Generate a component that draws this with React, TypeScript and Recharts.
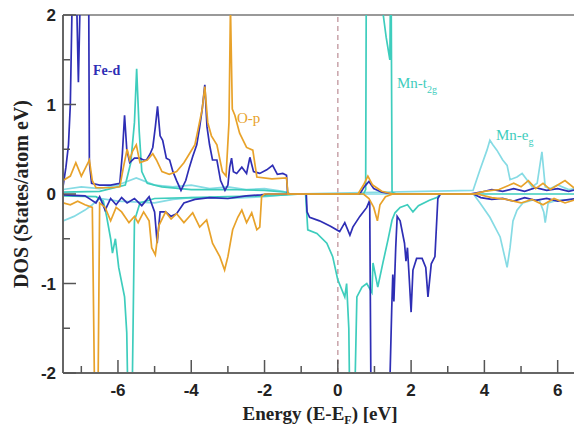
import React from "react"
import { LineChart, Line, XAxis, YAxis, ReferenceLine } from "recharts"

type P = [number, number]

// [energy (eV), DOS] pairs; spin up > 0, spin down < 0
const feUp: P[] = [
  [-7.5, 0.08], [-7.42, 0.3], [-7.35, 0.55], [-7.3, 1.0], [-7.24, 2.4], [-7.14, 2.4], [-7.08, 1.25],
  [-7.02, 2.4], [-6.8, 2.4], [-6.78, 0.35], [-6.72, 0.12], [-6.5, 0.1], [-6.2, 0.1], [-5.95, 0.12],
  [-5.88, 0.45], [-5.82, 0.88], [-5.76, 0.5], [-5.68, 0.35], [-5.55, 0.4], [-5.41, 0.4], [-5.3, 0.38],
  [-5.22, 0.38], [-5.12, 0.45], [-5.05, 0.52], [-4.98, 0.75], [-4.92, 0.98], [-4.85, 0.65], [-4.78, 0.6],
  [-4.68, 0.4], [-4.59, 0.38], [-4.5, 0.25], [-4.4, 0.15], [-4.28, 0.04], [-4.15, 0.15], [-4.05, 0.3],
  [-3.96, 0.42], [-3.85, 0.55], [-3.77, 0.75], [-3.7, 0.95], [-3.63, 1.22], [-3.57, 0.75], [-3.5, 0.55],
  [-3.42, 0.38], [-3.3, 0.38], [-3.2, 0.15], [-3.08, 0.04], [-3.0, 0.1], [-2.95, 0.3], [-2.9, 0.4],
  [-2.85, 0.25], [-2.76, 0.23], [-2.62, 0.3], [-2.49, 0.23], [-2.4, 0.41], [-2.3, 0.25], [-2.13, 0.23],
  [-1.94, 0.27], [-1.78, 0.32], [-1.65, 0.22], [-1.5, 0.23], [-1.4, 0.21], [-1.37, 0.0], [0.6, 0.0],
  [0.72, 0.08], [0.85, 0.14], [0.98, 0.06], [1.2, 0.02], [1.5, 0.0], [3.6, 0.0], [3.9, 0.02], [4.2, 0.05],
  [4.5, 0.03], [4.8, 0.06], [5.1, 0.03], [5.4, 0.07], [5.7, 0.04], [6.0, 0.06], [6.3, 0.03], [6.5, 0.05],
]
const feDn: P[] = [
  [-7.5, -0.01], [-6.9, -0.02], [-6.75, -0.06], [-6.6, -0.1], [-6.5, -0.03], [-6.35, -0.18], [-6.2, -0.05],
  [-6.05, -0.12], [-5.9, -0.04], [-5.75, -0.1], [-5.55, -0.05], [-5.35, -0.13], [-5.15, -0.03], [-5.0, -0.2],
  [-4.93, -0.55], [-4.85, -0.2], [-4.7, -0.2], [-4.55, -0.25], [-4.4, -0.22], [-4.2, -0.1], [-3.9, -0.06],
  [-3.5, -0.04], [-3.0, -0.05], [-2.5, -0.02], [-2.1, -0.01], [-1.9, 0], [-0.86, 0], [-0.84, -0.2],
  [-0.77, -0.26], [-0.5, -0.3], [-0.2, -0.36], [0.05, -0.42], [0.19, -0.32], [0.33, -0.46], [0.41, -0.37],
  [0.6, -0.25], [0.79, -0.15], [0.87, -0.07], [0.91, -2.6], [1.39, -2.6], [1.47, -1.3], [1.5, -0.9],
  [1.53, -1.2], [1.58, -0.6], [1.62, -0.25], [1.7, -0.3], [1.82, -0.55], [1.86, -0.75], [1.9, -0.6],
  [1.95, -0.95], [2.0, -1.32], [2.05, -0.85], [2.15, -0.72], [2.3, -0.72], [2.4, -0.82], [2.46, -1.15],
  [2.55, -0.78], [2.65, -0.7], [2.73, -0.05], [2.8, 0], [3.7, 0], [3.9, -0.04], [4.2, -0.06], [4.5, -0.05],
  [4.8, -0.08], [5.1, -0.04], [5.4, -0.07], [5.7, -0.05], [6.0, -0.08], [6.5, -0.05],
]
const opUp: P[] = [
  [-7.5, 0.15], [-7.3, 0.2], [-7.15, 0.35], [-7.0, 0.2], [-6.9, 0.28], [-6.78, 0.38], [-6.7, 0.15],
  [-6.6, 0.07], [-6.2, 0.07], [-5.95, 0.08], [-5.85, 0.3], [-5.75, 0.5], [-5.68, 0.38], [-5.6, 0.48],
  [-5.5, 0.55], [-5.4, 0.35], [-5.2, 0.38], [-5.05, 0.45], [-4.95, 0.38], [-4.8, 0.25], [-4.6, 0.22],
  [-4.4, 0.25], [-4.2, 0.35], [-4.05, 0.45], [-3.9, 0.55], [-3.8, 0.75], [-3.7, 0.95], [-3.63, 1.2],
  [-3.55, 0.8], [-3.45, 0.65], [-3.3, 0.55], [-3.15, 0.25], [-3.05, 0.2], [-2.97, 0.8], [-2.93, 2.1],
  [-2.88, 0.95], [-2.81, 0.88], [-2.68, 0.68], [-2.49, 0.52], [-2.32, 0.49], [-2.21, 0.19], [-1.8, 0.17],
  [-1.4, 0.18], [-1.36, 0.0], [0.55, 0.0], [0.7, 0.1], [0.82, 0.2], [0.95, 0.1], [1.2, 0.03], [1.5, 0],
  [3.7, 0], [4.0, 0.03], [4.4, 0.05], [4.8, 0.12], [5.0, 0.08], [5.2, 0.15], [5.4, 0.06], [5.6, 0.12],
  [5.8, 0.05], [6.0, 0.1], [6.2, 0.15], [6.5, 0.05],
]
const opDn: P[] = [
  [-7.5, -0.1], [-7.3, -0.12], [-7.1, -0.08], [-6.9, -0.12], [-6.7, -0.15], [-6.63, -2.5], [-6.55, -2.5],
  [-6.5, -0.1], [-6.35, -0.15], [-6.2, -0.3], [-6.05, -0.15], [-5.9, -0.2], [-5.7, -0.32], [-5.55, -0.25],
  [-5.45, -0.32], [-5.3, -0.2], [-5.15, -0.3], [-5.08, -0.6], [-4.98, -0.68], [-4.88, -0.35], [-4.7, -0.2],
  [-4.55, -0.28], [-4.4, -0.22], [-4.2, -0.32], [-3.96, -0.21], [-3.77, -0.37], [-3.58, -0.29],
  [-3.42, -0.55], [-3.22, -0.7], [-3.09, -0.85], [-3.0, -0.7], [-2.87, -0.4], [-2.73, -0.26],
  [-2.62, -0.18], [-2.49, -0.32], [-2.35, -0.21], [-2.21, -0.4], [-2.13, -0.37], [-2.08, -0.03],
  [-2.0, 0], [0.7, 0], [0.85, -0.05], [0.98, -0.15], [1.08, -0.3], [1.15, -0.12], [1.3, -0.03], [1.5, 0],
  [3.8, 0], [4.2, -0.04], [4.6, -0.06], [5.0, -0.1], [5.3, -0.06], [5.6, -0.12], [5.9, -0.05],
  [6.2, -0.1], [6.5, -0.06],
]
const t2gUp: P[] = [
  [-7.5, 0.02], [-6.5, 0.03], [-5.8, 0.1], [-5.65, 0.35], [-5.55, 0.8], [-5.49, 1.4], [-5.42, 0.7],
  [-5.35, 0.25], [-5.2, 0.12], [-4.8, 0.08], [-4.0, 0.05], [-3.0, 0.05], [-2.0, 0.04], [-1.4, 0.02],
  [-1.3, 0], [0.7, 0], [0.76, 0.05], [0.78, 2.8], [1.2, 2.8], [1.24, 2.0], [1.32, 1.75], [1.42, 1.5],
  [1.45, 2.8], [1.48, 0.02], [1.6, 0], [6.5, 0],
]
const t2gDn: P[] = [
  [-7.5, -0.02], [-6.6, -0.03], [-6.4, -0.08], [-6.31, -0.25], [-6.2, -0.5], [-6.15, -0.66],
  [-6.07, -0.5], [-5.98, -0.82], [-5.82, -1.15], [-5.76, -1.55], [-5.72, -2.5], [-5.62, -2.5],
  [-5.55, -0.3], [-5.4, -0.1], [-5.0, -0.05], [-4.0, -0.04], [-3.0, -0.03], [-2.0, -0.02], [-1.4, -0.01],
  [-1.0, 0], [-0.88, 0], [-0.85, -0.2], [-0.82, -0.4], [-0.57, -0.44], [-0.3, -0.55], [-0.14, -0.7],
  [0.0, -0.96], [0.11, -1.07], [0.19, -1.15], [0.24, -1.0], [0.3, -1.5], [0.33, -2.5], [0.45, -2.5],
  [0.52, -1.15], [0.66, -1.04], [0.79, -1.0], [0.93, -1.1], [0.96, -0.77], [1.09, -1.04], [1.23, -0.77],
  [1.37, -0.51], [1.48, -0.29], [1.56, -0.21], [1.7, -0.15], [1.9, -0.12], [2.05, -0.2], [2.2, -0.13],
  [2.5, -0.07], [2.7, -0.04], [2.8, 0],
]
const egUp: P[] = [
  [-7.5, 0.05], [-7.0, 0.08], [-6.5, 0.06], [-6.0, 0.1], [-5.5, 0.18], [-5.0, 0.1], [-4.5, 0.08],
  [-4.0, 0.1], [-3.5, 0.06], [-3.0, 0.08], [-2.5, 0.05], [-2.0, 0.06], [-1.5, 0.03], [-1.3, 0], [3.69, 0.04],
  [3.88, 0.27], [4.07, 0.49], [4.15, 0.6], [4.23, 0.55], [4.34, 0.49], [4.5, 0.38], [4.62, 0.32],
  [4.7, 0.16], [4.89, 0.19], [5.03, 0.23], [5.16, 0.16], [5.3, 0.08], [5.44, 0.12], [5.57, 0.47],
  [5.66, 0.08], [5.8, 0.06], [6.0, 0.1], [6.3, 0.05], [6.5, 0.06],
]
const egDn: P[] = [
  [-7.5, -0.3], [-7.2, -0.25], [-6.9, -0.18], [-6.7, -0.12], [-6.5, -0.05], [-6.0, -0.08], [-5.0, -0.1],
  [-4.5, -0.06], [-4.0, -0.04], [-3.0, -0.05], [-2.0, -0.03], [-1.5, -0.01], [-1.3, 0], [3.7, 0],
  [3.88, -0.1], [4.15, -0.26], [4.43, -0.48], [4.62, -0.82], [4.7, -0.6], [4.78, -0.3], [4.89, -0.18],
  [5.05, -0.1], [5.3, -0.07], [5.5, -0.07], [5.62, -0.2], [5.66, -0.32], [5.74, -0.1], [6.0, -0.07],
  [6.5, -0.06],
]

const xTicks = [-7, -6, -5, -4, -3, -2, -1, 0, 1, 2, 3, 4, 5, 6]
const yTicks = [-2, -1.5, -1, -0.5, 0, 0.5, 1, 1.5, 2]

const FE = "#2e2eb5"
const OP = "#e8a22a"
const T2G = "#3ecdbd"
const EG = "#86dbe4"

const rows = (pts: P[]) => pts.map(([e, d]) => ({ e, d }))

const series = [
  { id: "egUp", pts: egUp, color: EG },
  { id: "egDn", pts: egDn, color: EG },
  { id: "t2gUp", pts: t2gUp, color: T2G },
  { id: "t2gDn", pts: t2gDn, color: T2G },
  { id: "feUp", pts: feUp, color: FE },
  { id: "feDn", pts: feDn, color: FE },
  { id: "opUp", pts: opUp, color: OP },
  { id: "opDn", pts: opDn, color: OP },
]

const tickFont = { fontFamily: "'Liberation Sans', Arial, sans-serif", fontWeight: 700, fontSize: 17, fill: "#222" }

function XTick(props: any) {
  const { x, y, payload } = props
  const v = payload.value
  const major = v % 2 === 0
  return (
    <g>
      <line x1={x} x2={x} y1={y} y2={y - (major ? 13 : 7)} stroke="#555" strokeWidth={1.5} />
      {major && (
        <text x={x} y={y + 23} textAnchor="middle" {...tickFont}>
          {v}
        </text>
      )}
    </g>
  )
}

function YTick(props: any) {
  const { x, y, payload } = props
  const v = payload.value
  const major = Number.isInteger(v)
  return (
    <g>
      <line x1={x} x2={x + (major ? 13 : 7)} y1={y} y2={y} stroke="#555" strokeWidth={1.5} />
      {major && (
        <text x={x - 7} y={y + 6} textAnchor="end" {...tickFont}>
          {v}
        </text>
      )}
    </g>
  )
}

const serif = "'Liberation Serif', 'Times New Roman', serif"

export default function App() {
  return (
    <div style={{ position: "absolute", left: 0, top: 0, width: 574, height: 426, overflow: "hidden", background: "#fff" }}>
      <LineChart width={576} height={426} margin={{ top: 15, right: 0, bottom: 0, left: 0 }}>
        <XAxis
          type="number"
          dataKey="e"
          domain={[-7.5, 6.5]}
          ticks={xTicks}
          interval={0}
          allowDataOverflow
          height={53}
          tickSize={0}
          tickMargin={0}
          tickLine={false}
          tick={XTick}
          axisLine={{ stroke: "#666", strokeWidth: 2 }}
        />
        <YAxis
          type="number"
          domain={[-2, 2]}
          ticks={yTicks}
          interval={0}
          allowDataOverflow
          width={63}
          tickSize={0}
          tickMargin={0}
          tickLine={false}
          tick={YTick}
          axisLine={{ stroke: "#666", strokeWidth: 2 }}
        />
        <ReferenceLine y={2} stroke="#999" strokeWidth={2} />
        <ReferenceLine x={0} stroke="#c9a3aa" strokeWidth={1.5} strokeDasharray="5 4" />
        {series.map((s) => (
          <Line
            key={s.id}
            name={s.id}
            data={rows(s.pts)}
            dataKey="d"
            type="linear"
            dot={false}
            stroke={s.color}
            strokeWidth={1.7}
            isAnimationActive={false}
          />
        ))}
      </LineChart>
      <svg width={574} height={426} style={{ position: "absolute", left: 0, top: 0, pointerEvents: "none" }}>
        <text x={93} y={75} fontFamily={serif} fontWeight={700} fontSize={14} fill={FE}>Fe-d</text>
        <text x={237} y={123} fontFamily={serif} fontSize={15} fill={OP}>O-p</text>
        <text x={397} y={88} fontFamily={serif} fontSize={15} fill={T2G}>
          Mn-t<tspan fontSize={10} dy={5}>2g</tspan>
        </text>
        <text x={496} y={140} fontFamily={serif} fontSize={15} fill={T2G}>
          Mn-e<tspan fontSize={10} dy={5}>g</tspan>
        </text>
        <text x={320} y={420} textAnchor="middle" fontFamily={serif} fontWeight={700} fontSize={19} fill="#222">
          Energy (E-E<tspan fontSize={12} dy={4}>F</tspan><tspan dy={-4}>) [eV]</tspan>
        </text>
        <text
          transform="translate(28,194) rotate(-90)"
          textAnchor="middle"
          fontFamily={serif}
          fontWeight={700}
          fontSize={20}
          fill="#222"
        >
          DOS (States/atom eV)
        </text>
      </svg>
    </div>
  )
}
